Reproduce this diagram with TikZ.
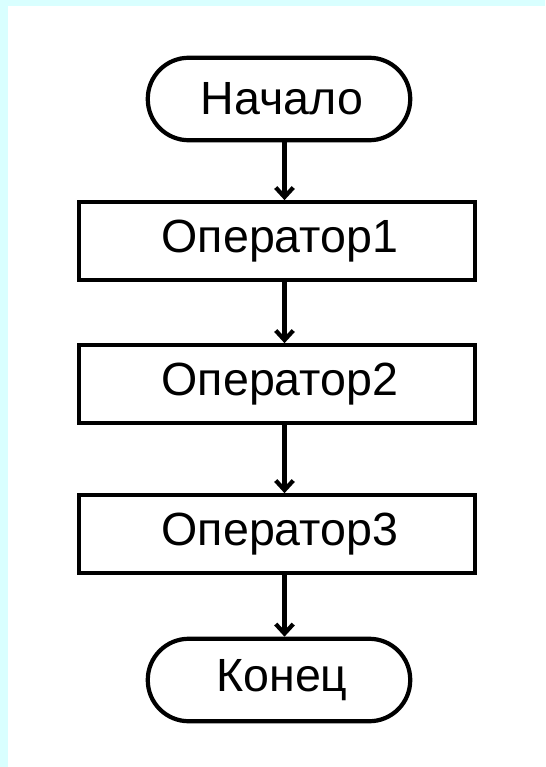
\documentclass[tikz,border=0pt]{standalone}
\usepackage{fontspec}
\setmainfont{Liberation Sans}
\usepackage{tikz}
\usetikzlibrary{arrows.meta}
\definecolor{frame}{RGB}{217,255,255}
\tikzset{>={Straight Barb[length=1.9mm,width=3.5mm]}}
\tikzset{term/.style={draw, line width=2.4pt, rounded corners=0.82cm,
    minimum width=5.25cm, minimum height=1.65cm, inner sep=0pt,
    font=\fontsize{26.5}{30}\selectfont}}
\tikzset{opbox/.style={draw, line width=2.4pt,
    minimum width=7.91cm, minimum height=1.55cm, inner sep=0pt,
    font=\fontsize{26.5}{30}\selectfont}}
\tikzset{flow/.style={->, line width=2.4pt}}

\begin{document}
\begin{tikzpicture}[x=0.02cm, y=-0.02cm]
    %page
    \useasboundingbox (0,0) rectangle (545,767);
    \fill[white] (0,0) rectangle (545,767);
    \fill[frame] (0,0) rectangle (545,6);
    \fill[frame] (0,0) rectangle (7.5,767);
    %blocks
    \node[term] (start) at (279, 99) {\hspace{3.4pt}Начало};
    \node[opbox] (op1) at (277, 241) {\hspace{3.4pt}Оператор1};
    \node[opbox] (op2) at (277, 384) {\hspace{3.4pt}Оператор2};
    \node[opbox] (op3) at (277, 534) {\hspace{3.4pt}Оператор3};
    \node[term] (stop) at (279, 680) {\hspace{3.4pt}Конец};
    \coordinate (axis) at (284.5, 0);
    %arrows
    \draw[flow] (start.south -| axis) -- (op1.north -| axis);
    \draw[flow] (op1.south -| axis) -- (op2.north -| axis);
    \draw[flow] (op2.south -| axis) -- (op3.north -| axis);
    \draw[flow] (op3.south -| axis) -- (stop.north -| axis);
\end{tikzpicture}
\end{document}
